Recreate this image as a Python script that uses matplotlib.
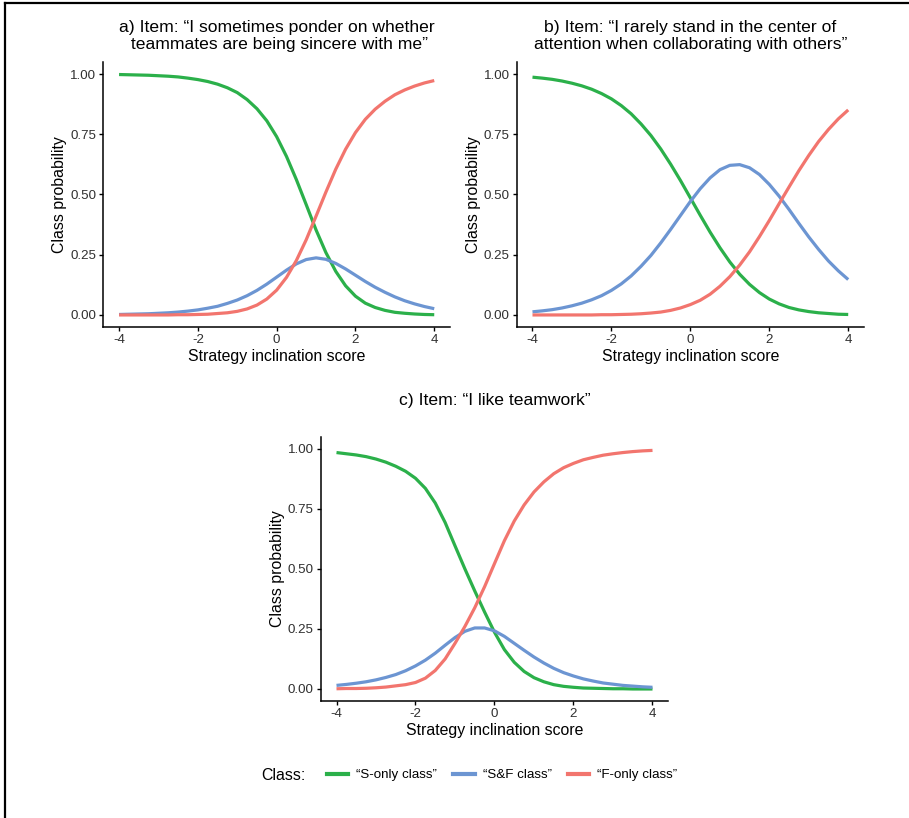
import matplotlib
matplotlib.use("Agg")
import matplotlib.pyplot as plt
from matplotlib.lines import Line2D

plt.rcParams['font.family'] = ['Liberation Sans', 'DejaVu Sans']
plt.rcParams['axes.unicode_minus'] = False

# Strategy inclination score grid (values read every 0.25)
x = [-4, -3.75, -3.5, -3.25, -3, -2.75, -2.5, -2.25, -2, -1.75, -1.5, -1.25, -1, -0.75, -0.5, -0.25,
     0, 0.25, 0.5, 0.75, 1, 1.25, 1.5, 1.75, 2, 2.25, 2.5, 2.75, 3, 3.25, 3.5, 3.75, 4]

# a) sincere item
a_s_only = [0.998, 0.997, 0.996, 0.995, 0.993, 0.991, 0.988, 0.983, 0.977, 0.969, 0.958, 0.943,
            0.923, 0.894, 0.856, 0.806, 0.740, 0.658, 0.562, 0.458, 0.353, 0.259, 0.181, 0.121,
            0.078, 0.049, 0.031, 0.019, 0.011, 0.007, 0.004, 0.002, 0.001]
a_sf = [0.002, 0.003, 0.004, 0.005, 0.007, 0.009, 0.012, 0.016, 0.021, 0.028, 0.036, 0.048,
        0.062, 0.080, 0.102, 0.128, 0.157, 0.186, 0.212, 0.230, 0.237, 0.231, 0.214, 0.191,
        0.165, 0.139, 0.115, 0.094, 0.075, 0.059, 0.046, 0.035, 0.026]
a_f_only = [0.000, 0.000, 0.000, 0.000, 0.000, 0.000, 0.001, 0.001, 0.002, 0.003, 0.006, 0.009,
            0.015, 0.025, 0.041, 0.066, 0.103, 0.156, 0.226, 0.312, 0.410, 0.510, 0.605, 0.688,
            0.757, 0.812, 0.854, 0.887, 0.914, 0.934, 0.950, 0.963, 0.973]

# b) center of attention item
b_s_only = [0.987, 0.983, 0.978, 0.971, 0.962, 0.951, 0.937, 0.919, 0.897, 0.869, 0.835, 0.793,
            0.745, 0.689, 0.626, 0.558, 0.486, 0.414, 0.344, 0.279, 0.220, 0.169, 0.127, 0.093,
            0.066, 0.046, 0.031, 0.021, 0.014, 0.009, 0.006, 0.003, 0.002]
b_sf = [0.013, 0.017, 0.022, 0.029, 0.038, 0.049, 0.063, 0.080, 0.102, 0.129, 0.162, 0.202,
        0.247, 0.299, 0.355, 0.413, 0.471, 0.524, 0.569, 0.603, 0.621, 0.624, 0.611, 0.583,
        0.542, 0.493, 0.438, 0.380, 0.324, 0.272, 0.224, 0.183, 0.147]
b_f_only = [0.000, 0.000, 0.000, 0.000, 0.000, 0.000, 0.000, 0.001, 0.001, 0.002, 0.003, 0.005,
            0.008, 0.012, 0.019, 0.029, 0.043, 0.061, 0.086, 0.119, 0.159, 0.207, 0.262, 0.325,
            0.392, 0.462, 0.531, 0.599, 0.662, 0.720, 0.770, 0.814, 0.851]

# c) teamwork item
c_s_only = [0.984, 0.979, 0.974, 0.967, 0.957, 0.944, 0.927, 0.906, 0.877, 0.835, 0.774, 0.693,
            0.596, 0.500, 0.408, 0.320, 0.236, 0.164, 0.111, 0.073, 0.047, 0.030, 0.018, 0.011,
            0.007, 0.004, 0.003, 0.002, 0.001, 0.001, 0.000, 0.000, 0.000]
c_sf = [0.015, 0.019, 0.024, 0.030, 0.038, 0.048, 0.060, 0.076, 0.096, 0.120, 0.149, 0.182,
        0.214, 0.240, 0.254, 0.254, 0.242, 0.219, 0.190, 0.161, 0.133, 0.108, 0.086, 0.068,
        0.054, 0.042, 0.033, 0.025, 0.020, 0.015, 0.012, 0.009, 0.007]
c_f_only = [0.001, 0.002, 0.002, 0.003, 0.005, 0.008, 0.013, 0.018, 0.027, 0.045, 0.077, 0.125,
            0.190, 0.260, 0.338, 0.426, 0.522, 0.617, 0.699, 0.766, 0.820, 0.862, 0.896, 0.921,
            0.939, 0.954, 0.964, 0.973, 0.979, 0.984, 0.988, 0.991, 0.993]

titles = ["a) Item: \u201cI sometimes ponder on whether\n teammates are being sincere with me\u201d",
          "b) Item: \u201cI rarely stand in the center of\nattention when collaborating with others\u201d",
          "c) Item: \u201cI like teamwork\u201d"]
class_names = ["\u201cS-only class\u201d", "\u201cS&F class\u201d", "\u201cF-only class\u201d"]
class_colors = ["#2BB04A", "#6C95D2", "#F2756E"]

W, H = 909, 818
fig = plt.figure(figsize=(W / 100, H / 100), dpi=100)

def px_axes(left, top, right, bottom):
    return fig.add_axes([left / W, 1 - bottom / H, (right - left) / W, (bottom - top) / H])

ax_a = px_axes(103.3, 62, 450, 327)
ax_b = px_axes(516.7, 62, 864, 327)
ax_c = px_axes(320.7, 436.7, 668.3, 701)

panels = [
    (ax_a, [a_s_only, a_sf, a_f_only]),
    (ax_b, [b_s_only, b_sf, b_f_only]),
    (ax_c, [c_s_only, c_sf, c_f_only]),
]

for ax, series in panels:
    for vals, col in zip(series, class_colors):
        ax.plot(x, vals, color=col, lw=2.3, solid_capstyle='butt', solid_joinstyle='round')
    ax.set_xlim(-4.4, 4.4)
    ax.set_ylim(-0.05, 1.05)
    ax.set_xticks([-4, -2, 0, 2, 4])
    ax.set_xticklabels(["-4", "-2", "0", "2", "4"])
    ax.set_yticks([0, 0.25, 0.5, 0.75, 1.0])
    ax.set_yticklabels(["0.00", "0.25", "0.50", "0.75", "1.00"])
    for s in ['top', 'right']:
        ax.spines[s].set_visible(False)
    for s in ['left', 'bottom']:
        ax.spines[s].set_linewidth(1.1)
    ax.tick_params(length=3, width=1.0, labelsize=9.6, labelcolor='#303030', pad=2)
    ax.set_xlabel("Strategy inclination score", fontsize=11.4)
    ax.set_ylabel("Class probability", fontsize=11.4)
    ax.xaxis.set_label_coords(0.5, -0.112)
    ax.xaxis.label.set_va('center')
    ax.yaxis.set_label_coords(-0.125, 0.5)
    ax.yaxis.label.set_va('center')

# panel titles
fig.text(276.6 / W, 1 - 36 / H, titles[0], ha='center', va='center', fontsize=12.6,
         linespacing=1.13, multialignment='center')
fig.text(690.3 / W, 1 - 36 / H, titles[1], ha='center', va='center', fontsize=12.6,
         linespacing=1.13, multialignment='center')
fig.text(494.5 / W, 1 - 401 / H, titles[2], ha='center', va='center', fontsize=12.6)

# legend
handles = [Line2D([0], [0], color=c, lw=3) for c in class_colors]
fig.text(305 / W, 1 - 775 / H, "Class:", ha='right', va='center', fontsize=11.4)
fig.legend(handles, class_names, loc='center left', bbox_to_anchor=(327 / W, 1 - 775 / H),
           ncol=3, frameon=False, fontsize=9.6, handlelength=1.6, handletextpad=0.6,
           columnspacing=1.2, borderaxespad=0, borderpad=0)

# outer frame lines (top and left)
fig.add_artist(Line2D([4.5 / W, 1], [1 - 2.5 / H, 1 - 2.5 / H], color='black', lw=1.6,
                      transform=fig.transFigure))
fig.add_artist(Line2D([4.5 / W, 4.5 / W], [0, 1 - 2.5 / H], color='black', lw=1.6,
                      transform=fig.transFigure))

fig.savefig("out.png", dpi=100)
